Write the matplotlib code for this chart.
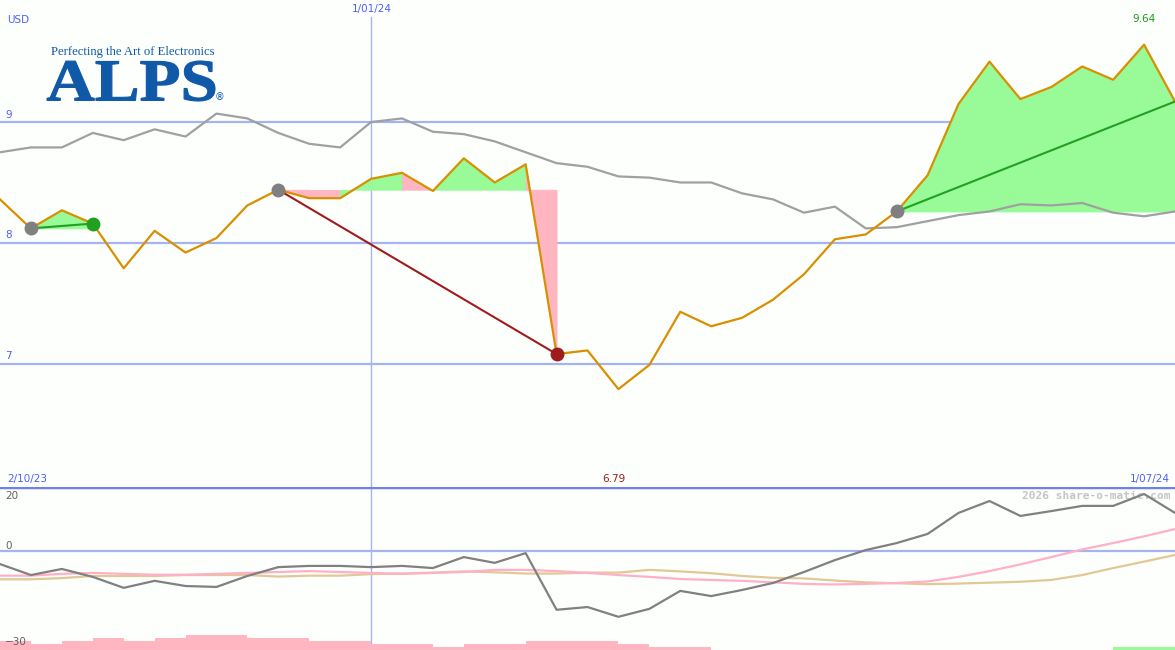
import numpy as np
import matplotlib.pyplot as plt
from matplotlib.textpath import TextPath
from matplotlib.patches import PathPatch
from matplotlib.font_manager import FontProperties
from matplotlib.transforms import Affine2D, blended_transform_factory

# weekly closes, 2/10/23 .. 1/07/24
price = [8.36, 8.12, 8.27, 8.16, 7.79, 8.10, 7.92, 8.04, 8.31, 8.44,
         8.37, 8.37, 8.53, 8.58, 8.43, 8.70, 8.50, 8.65, 7.08, 7.11,
         6.79, 6.99, 7.43, 7.31, 7.38, 7.53, 7.74, 8.03, 8.07, 8.26,
         8.56, 9.15, 9.50, 9.19, 9.29, 9.46, 9.35, 9.64, 9.17]
avg = [8.75, 8.79, 8.79, 8.91, 8.85, 8.94, 8.88, 9.07, 9.03, 8.91,
       8.82, 8.79, 9.00, 9.03, 8.92, 8.90, 8.84, 8.75, 8.66, 8.63,
       8.55, 8.54, 8.50, 8.50, 8.41, 8.36, 8.25, 8.30, 8.12, 8.13,
       8.18, 8.23, 8.26, 8.32, 8.31, 8.33, 8.25, 8.22, 8.26]
mom = [-4.3, -7.9, -5.9, -8.5, -12.1, -9.8, -11.5, -11.8, -8.2, -5.3,
       -4.9, -4.9, -5.3, -4.9, -5.6, -2.0, -3.9, -0.7, -19.3, -18.4,
       -21.6, -19.0, -13.1, -14.8, -12.8, -10.5, -6.9, -3.0, 0.3, 2.6,
       5.6, 12.5, 16.4, 11.5, 13.1, 14.8, 14.8, 18.7, 12.5]
mom_pink = [-8.1, -8.1, -7.5, -7.2, -7.5, -7.8, -7.8, -7.5, -7.2, -6.9,
            -6.6, -6.9, -7.2, -7.5, -7.2, -6.9, -6.2, -6.2, -6.6, -7.2,
            -7.9, -8.5, -9.2, -9.5, -9.8, -10.3, -10.8, -11.0, -10.8, -10.5,
            -10.0, -8.5, -6.6, -4.4, -2.0, 0.5, 2.6, 4.8, 7.2]
mom_tan = [-9.3, -9.3, -8.9, -8.2, -8.2, -8.2, -7.9, -7.9, -7.9, -8.4,
           -8.1, -8.1, -7.6, -7.4, -7.1, -6.7, -7.0, -7.4, -7.4, -7.1,
           -7.1, -6.2, -6.7, -7.3, -8.2, -8.8, -9.0, -9.7, -10.3, -10.6,
           -10.9, -10.7, -10.4, -10.1, -9.5, -7.9, -5.6, -3.5, -1.3]
vol_down = [3.0, 2.0, 3.0, 4.1, 3.0, 4.1, 5.0, 5.0, 4.1, 4.1,
            3.0, 3.0, 2.0, 2.0, 1.1, 2.0, 2.0, 3.0, 3.0, 3.0,
            2.0, 1.1, 1.1, 0, 0, 0, 0, 0, 0, 0,
            0, 0, 0, 0, 0, 0, 0, 0, 0]
vol_up = [0] * 36 + [0.9, 0.9, 0]
trades = [(1, 3), (9, 18), (29, 38)]

BG = "#fdfffd"
GRID = "#a4b4f0"
BLUE = "#5060f0"
GREEN_FILL = "#98fb98"
PINK_FILL = "#ffb6c1"
LOGO = "#1058a8"


def main():
    x = np.arange(len(price))
    fig = plt.figure(figsize=(11.75, 6.5), dpi=100, facecolor=BG)
    ax = fig.add_axes([0, 163 / 650, 1, 487 / 650])
    lo = fig.add_axes([0, 0, 1, 163 / 650])
    for a in (ax, lo):
        a.set_facecolor(BG)
        a.set_xlim(0, len(price) - 1)
        a.set_xticks([])
        a.set_yticks([])
        for s in a.spines.values():
            s.set_visible(False)

    # main panel
    ax.set_ylim(5.98, 10.01)
    for v in (9, 8, 7):
        ax.axhline(v, color=GRID, lw=1.6, zorder=1)
    ax.axvline(12, ymax=0.965, color=GRID, lw=1, zorder=1)
    ax.plot(x, avg, color="#a0a0a0", lw=1.6, zorder=3)

    # trade fills, colour by where each segment ends
    for s, e in trades:
        base = price[s]
        for i in range(s, e):
            col = GREEN_FILL if price[i + 1] > base else PINK_FILL
            ax.fill_between(x[i:i + 2], price[i:i + 2], base,
                            facecolor=col, edgecolor=col, lw=0.6, zorder=2)

    ax.plot(x, price, color="#d89000", lw=1.6, zorder=4)

    for s, e in trades:
        win = price[e] > price[s]
        lc = "#22a022" if win else "#a01c1c"
        ax.plot([s, e], [price[s], price[e]], color=lc, lw=1.5, zorder=5)
        ax.plot(s, price[s], "o", color="#808080", ms=9, zorder=6)
        if e < len(price) - 1:
            ax.plot(e, price[e], "o", color=lc, ms=9, zorder=6)

    def px(a, xp, yp):
        return a.transAxes.inverted().transform(
            fig.transFigure.transform((xp / 1175, 1 - yp / 650)))

    kw = dict(fontsize=7.5, color=BLUE, family="DejaVu Sans")
    ytr = blended_transform_factory(ax.transAxes, ax.transData)
    for v in (9, 8, 7):
        ax.text(5 / 1175, v + 0.02, str(v), va="bottom", ha="left",
                transform=ytr, **kw)
    ax.text(*px(ax, 7, 20), "USD", transform=ax.transAxes,
            va="center", ha="left", **kw)
    ax.text(*px(ax, 372, 9), "1/01/24", transform=ax.transAxes,
            ha="center", va="center", **kw)
    imax = int(np.argmax(price))
    ax.text(imax, 9.85, "%.2f" % price[imax], ha="center", va="center",
            fontsize=7.5, color="#1a9a1a")
    imin = int(np.argmin(price))
    ax.text(*px(ax, 7, 479), "2/10/23", transform=ax.transAxes,
            va="center", ha="left", **kw)
    ax.text(imin - 0.15, 6.05, "%.2f" % price[imin], ha="center",
            va="center", fontsize=7.5, color="#a01c1c")
    ax.text(*px(ax, 1170, 479), "1/07/24", transform=ax.transAxes,
            va="center", ha="right", **kw)

    # logo
    ax.text(*px(ax, 51, 52), "Perfecting the Art of Electronics",
            transform=ax.transAxes, va="center", ha="left",
            family="Liberation Serif", fontsize=9.1, color=LOGO)
    tp = TextPath((0, 0), "ALPS", size=1,
                  prop=FontProperties(family="Liberation Serif",
                                      weight="bold"))
    bb = tp.get_extents()
    w, h = 168 / 100, 40 / 100
    tr = (Affine2D().translate(-bb.x0, -bb.y0)
          .scale(w / bb.width, h / bb.height)
          .translate(47 / 100, (650 - 101) / 100) + fig.dpi_scale_trans)
    fig.patches.append(PathPatch(tp, transform=tr, facecolor=LOGO,
                                 edgecolor=LOGO, lw=0.8))
    ax.text(*px(ax, 219, 97), "\u00ae", transform=ax.transAxes,
            va="center", ha="center", fontsize=7, color=LOGO)

    # lower panel
    lo.set_ylim(-32.5, 21)
    lo.axhline(21, color="#7080e8", lw=2.5, zorder=6)
    lo.axhline(0, color=GRID, lw=1.6, zorder=1)
    lo.axvline(12, color=GRID, lw=1, zorder=1)
    lo.bar(x, vol_down, width=1, align="edge", bottom=-32.5,
           color=PINK_FILL, lw=0, zorder=3)
    lo.bar(x, vol_up, width=1, align="edge", bottom=-32.5,
           color=GREEN_FILL, lw=0, zorder=3)
    lo.plot(x, mom_tan, color="#e2c896", lw=1.6, zorder=2)
    lo.plot(x, mom_pink, color="#ffb0c8", lw=1.6, zorder=2)
    lo.plot(x, mom, color="#808080", lw=1.6, zorder=4)
    lkw = dict(fontsize=7.5, color="#606060", transform=lo.transAxes,
               va="center", ha="left")
    lo.text(*px(lo, 5, 496), "20", **lkw)
    lo.text(*px(lo, 5, 546), "0", **lkw)
    lo.text(*px(lo, 5, 642), "\u221230", zorder=7, **lkw)
    lo.text(*px(lo, 1171, 496), "2026 share-o-matic.com",
            transform=lo.transAxes, va="center", ha="right",
            family="DejaVu Sans Mono", fontweight="bold", fontsize=8,
            color="#c4c4c4")

    fig.savefig("out.png", dpi=100, facecolor=BG)


if __name__ == "__main__":
    main()
